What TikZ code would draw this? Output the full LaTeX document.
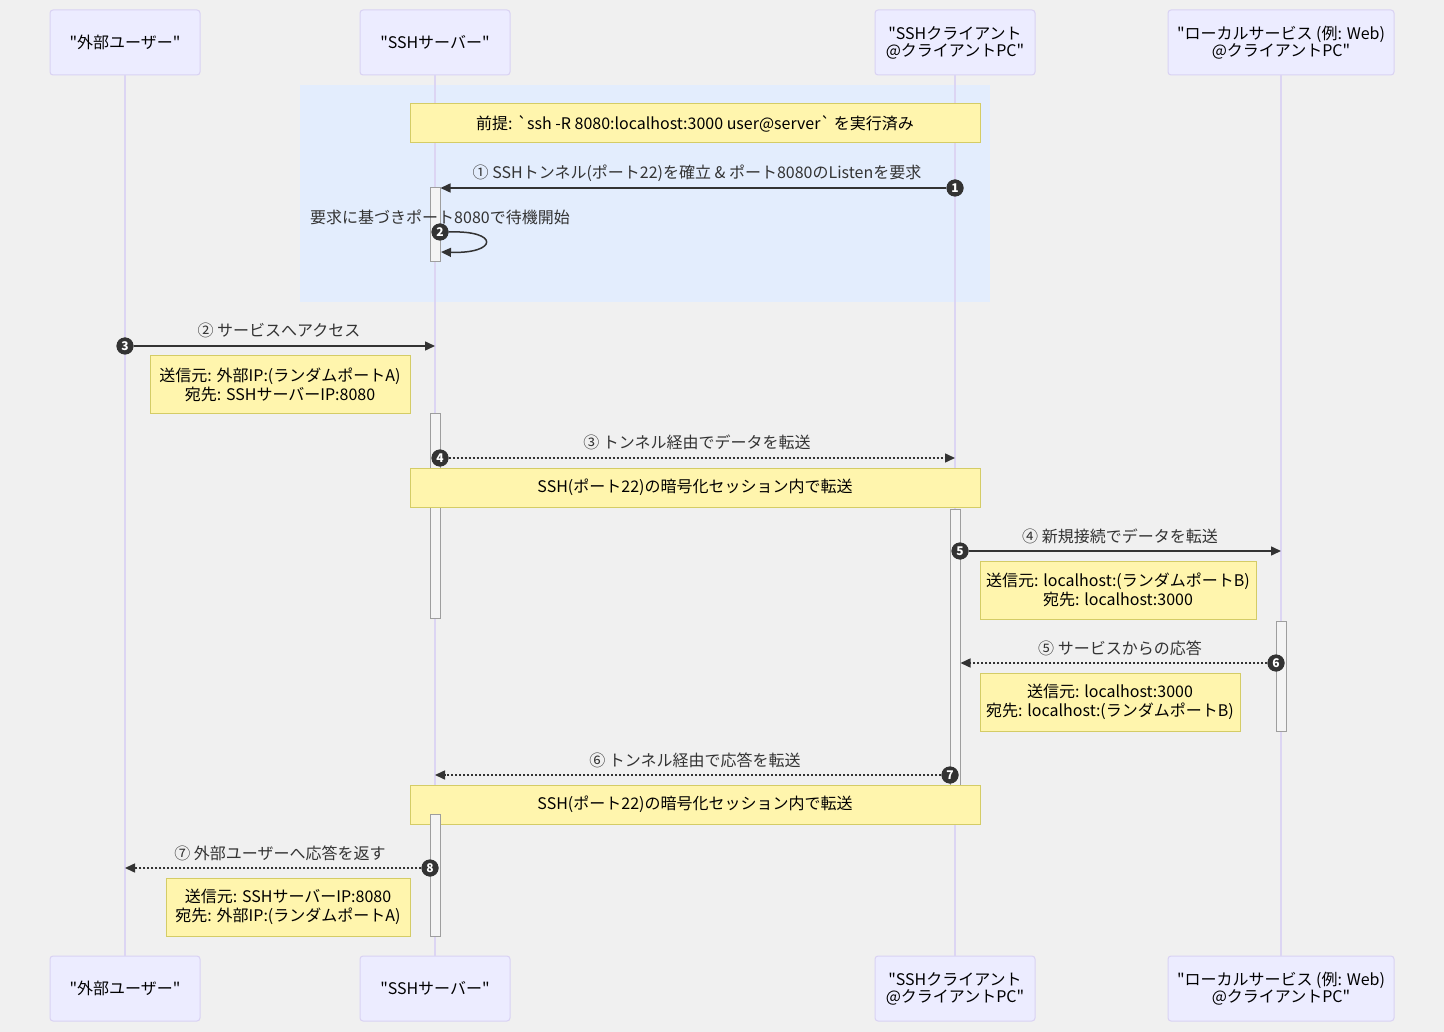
\documentclass[tikz,border=0pt]{standalone}
\usepackage{fontspec}
\setmainfont{Noto Sans CJK JP}[Ligatures=TeXOff]
\usetikzlibrary{arrows.meta}
\definecolor{bg}{HTML}{F0F0F0}
\definecolor{rectfill}{HTML}{E3EDFD}
\definecolor{actorfill}{HTML}{ECECFF}
\definecolor{actorborder}{HTML}{D9D2F3}
\definecolor{lifecol}{HTML}{DCD5F3}
\definecolor{notefill}{HTML}{FFF5AD}
\definecolor{noteborder}{HTML}{D4CC66}
\definecolor{actfill}{HTML}{F4F4F4}
\definecolor{actborder}{HTML}{9E9E9E}
\definecolor{msgcol}{HTML}{333333}
\definecolor{lblcol}{HTML}{333333}
\definecolor{badgecol}{HTML}{333333}
\begin{document}
\begin{tikzpicture}[x=1pt,y=-1pt,
  every node/.style={font=\fontsize{16}{17}\selectfont},
  actor/.style={draw=actorborder, line width=1pt, fill=actorfill, rounded corners=3pt, minimum height=65pt, inner sep=0pt, align=center, text=black},
  lifeline/.style={draw=lifecol, line width=1.2pt},
  note/.style={draw=noteborder, fill=notefill, line width=1pt, inner sep=0pt, align=center, text=black, font=\fontsize{16}{19}\selectfont},
  act/.style={draw=actborder, fill=actfill, line width=1pt, minimum width=10pt, inner sep=0pt},
  msg/.style={draw=msgcol, line width=1.5pt, -{Triangle[length=10pt,width=9pt]}},
  reply/.style={msg, dash pattern=on 2pt off 2pt},
  badge/.style={circle, fill=badgecol, text=white, minimum size=17pt, inner sep=0pt, font=\fontsize{12}{12}\selectfont\bfseries},
  lbl/.style={text=lblcol, inner sep=0pt}
]
\useasboundingbox[fill=bg] (0,0) rectangle (1444,1032);
% highlighted region
\fill[rectfill] (300,85) rectangle (990,302);
% actors (top)
\node[actor, minimum width=150pt] (extT) at (125,42.5) {"外部ユーザー"};
\node[actor, minimum width=150pt] (srvT) at (435,42.5) {"SSHサーバー"};
\node[actor, minimum width=160pt] (cliT) at (955,42.5) {"SSHクライアント\\@クライアントPC"};
\node[actor, minimum width=226pt] (locT) at (1281,42.5) {"ローカルサービス (例: Web)\\@クライアントPC"};
% actors (bottom)
\node[actor, minimum width=150pt] (extB) at (125,988.5) {"外部ユーザー"};
\node[actor, minimum width=150pt] (srvB) at (435,988.5) {"SSHサーバー"};
\node[actor, minimum width=160pt] (cliB) at (955,988.5) {"SSHクライアント\\@クライアントPC"};
\node[actor, minimum width=226pt] (locB) at (1281,988.5) {"ローカルサービス (例: Web)\\@クライアントPC"};
% lifelines
\draw[lifeline] (extT.south) -- (extB.north);
\draw[lifeline] (srvT.south) -- (srvB.north);
\draw[lifeline] (cliT.south) -- (cliB.north);
\draw[lifeline] (locT.south) -- (locB.north);
% note 1
\node[note, minimum width=570pt, minimum height=39pt] (note1) at (695,123.5) {前提: `ssh -R 8080:localhost:3000 user@server` を実行済み};
% activation 1
\node[act, minimum height=74pt] (act1) at (435,225) {};
% message 1
\node[badge] (n1) at (955,188) {1};
\draw[msg] (n1) -- (n1 -| act1.east);
\node[badge] (n1) at (955,188) {1};
\node[lbl] (l1) at (697,173) {① SSHトンネル(ポート22)を確立 \& ポート8080のListenを要求};
% self message
\node[lbl] (l2) at (440,217) {要求に基づきポート8080で待機開始};
\coordinate (s2) at (441,252);
\node[badge] (n2) at (440,232) {2};
\draw[msg] (n2.east) .. controls (500,230) and (498,254) .. (s2);
\node[badge] at (440,232) {2};
% message 2
\node[badge] (n3) at (125,346) {3};
\draw[msg] (n3) -- (n3 -| srvT.south);
\node[badge] at (125,346) {3};
\node[lbl] (l3) at (279,330) {② サービスへアクセス};
\node[note, minimum width=260pt, minimum height=58pt] (note2) at (280,385) {送信元: 外部IP:(ランダムポートA)\\宛先: SSHサーバーIP:8080};
% activation 2
\node[act, minimum height=204pt] (act2) at (435,516) {};
% message 3
\node[badge] (n4) at (440,458) {4};
\draw[reply] (n4) -- (n4 -| cliT.south);
\node[badge] at (440,458) {4};
\node[lbl] (l4) at (697,442) {③ トンネル経由でデータを転送};
\node[note, minimum width=570pt, minimum height=39pt] (note3) at (695,487.5) {SSH(ポート22)の暗号化セッション内で転送};
% client activation
\node[act, minimum height=314pt] (cliact) at (955,666) {};
% message 4
\node[badge] (n5) at (960,551) {5};
\draw[msg] (n5) -- (n5 -| locT.south);
\node[badge] at (960,551) {5};
\node[lbl] (l5) at (1120,536) {④ 新規接続でデータを転送};
\node[note, minimum width=276pt, minimum height=58pt] (note4) at (1118,590) {送信元: localhost:(ランダムポートB)\\宛先: localhost:3000};
% local activation
\node[act, minimum height=110pt] (locact) at (1281,676) {};
% message 5
\node[badge] (n6) at (1276,663) {6};
\draw[reply] (n6) -- (n6 -| cliact.east);
\node[badge] at (1276,663) {6};
\node[lbl] (l6) at (1120,648) {⑤ サービスからの応答};
\node[note, minimum width=260pt, minimum height=58pt] (note5) at (1110,702) {送信元: localhost:3000\\宛先: localhost:(ランダムポートB)};
% message 6
\node[badge] (n7) at (950,775) {7};
\draw[reply] (n7) -- (n7 -| srvT.south);
\node[badge] at (950,775) {7};
\node[lbl] (l7) at (695,760) {⑥ トンネル経由で応答を転送};
\node[note, minimum width=570pt, minimum height=39pt] (note6) at (695,804.5) {SSH(ポート22)の暗号化セッション内で転送};
% activation 3
\node[act, minimum height=122pt] (act3) at (435,875) {};
% message 7
\node[badge] (n8) at (430,868) {8};
\draw[reply] (n8) -- (n8 -| extT.south);
\node[badge] at (430,868) {8};
\node[lbl] (l8) at (280,853) {⑦ 外部ユーザーへ応答を返す};
\node[note, minimum width=244pt, minimum height=58pt] (note7) at (288,907) {送信元: SSHサーバーIP:8080\\宛先: 外部IP:(ランダムポートA)};
\end{tikzpicture}
\end{document}
